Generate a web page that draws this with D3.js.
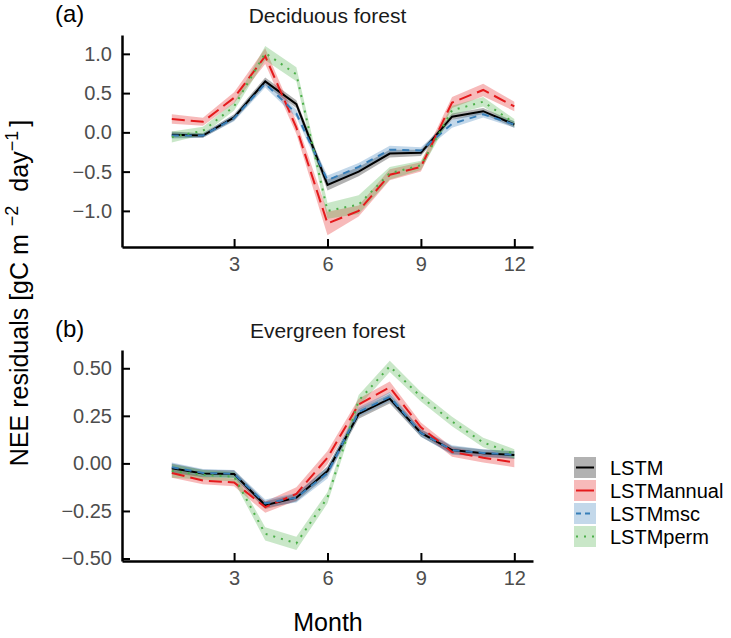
<!DOCTYPE html>
<html lang="en">
<head>
  <meta charset="UTF-8">
  <script src="https://cdn.jsdelivr.net/npm/d3@7"></script>
  <title>NEE residuals</title>
  <style>
    body { margin: 0; background: #fff; }
    svg text { font-family: "Liberation Sans", Arial, sans-serif; }
  </style>
</head>
<body>
  <svg width="731" height="638" id="chart"></svg>
  <script>
    // ---- data ----
    let months = [1, 2, 3, 4, 5, 6, 7, 8, 9, 10, 11, 12]
    let monthTicks = [3, 6, 9, 12]
    let models = ["LSTM", "LSTMannual", "LSTMmsc", "LSTMperm"]

    // (a) Deciduous forest: mean and half band width
    let decLSTM = [-0.03, -0.04, 0.19, 0.65, 0.36, -0.67, -0.50, -0.27, -0.26, 0.20, 0.27, 0.10]
    let decLSTMse = [0.04, 0.03, 0.04, 0.05, 0.05, 0.07, 0.06, 0.05, 0.04, 0.04, 0.04, 0.04]
    let decAnnual = [0.17, 0.135, 0.44, 0.97, 0.06, -1.16, -1.0, -0.54, -0.44, 0.38, 0.54, 0.33]
    let decAnnualSe = [0.06, 0.05, 0.07, 0.10, 0.08, 0.15, 0.07, 0.07, 0.06, 0.07, 0.08, 0.06]
    let decMsc = [-0.04, -0.04, 0.18, 0.62, 0.24, -0.61, -0.44, -0.22, -0.23, 0.11, 0.23, 0.10]
    let decMscSe = [0.04, 0.03, 0.04, 0.05, 0.05, 0.06, 0.05, 0.05, 0.04, 0.05, 0.04, 0.04]
    let decPerm = [-0.06, 0.02, 0.33, 1.01, 0.74, -1.0, -0.92, -0.52, -0.42, 0.28, 0.39, 0.12]
    let decPermSe = [0.07, 0.05, 0.05, 0.09, 0.09, 0.10, 0.12, 0.08, 0.06, 0.06, 0.06, 0.05]
    let decTicks = [-1.0, -0.5, 0.0, 0.5, 1.0]

    // (b) Evergreen forest
    let everLSTM = [-0.026, -0.053, -0.056, -0.22, -0.18, -0.04, 0.26, 0.34, 0.16, 0.07, 0.053, 0.044]
    let everLSTMse = [0.025, 0.02, 0.02, 0.02, 0.02, 0.025, 0.025, 0.025, 0.02, 0.02, 0.02, 0.02]
    let everAnnual = [-0.05, -0.09, -0.10, -0.23, -0.16, 0.03, 0.31, 0.40, 0.19, 0.06, 0.03, 0.005]
    let everAnnualSe = [0.025, 0.02, 0.02, 0.03, 0.035, 0.035, 0.03, 0.03, 0.025, 0.025, 0.025, 0.025]
    let everMsc = [-0.02, -0.05, -0.055, -0.21, -0.18, -0.05, 0.27, 0.35, 0.16, 0.07, 0.055, 0.045]
    let everMscSe = [0.025, 0.02, 0.02, 0.02, 0.025, 0.03, 0.025, 0.025, 0.02, 0.025, 0.02, 0.02]
    let everPerm = [-0.04, -0.06, -0.07, -0.37, -0.42, -0.18, 0.33, 0.51, 0.35, 0.22, 0.11, 0.05]
    let everPermSe = [0.035, 0.025, 0.025, 0.035, 0.035, 0.03, 0.03, 0.03, 0.025, 0.025, 0.025, 0.025]
    let everTicks = [-0.50, -0.25, 0.00, 0.25, 0.50]

    // ---- styles ----
    let lineColor = { LSTM: "#000000", LSTMannual: "#e41a1c", LSTMmsc: "#377eb8", LSTMperm: "#4daf4a" }
    let dash = { LSTM: null, LSTMannual: "13,6", LSTMmsc: "7,6", LSTMperm: "2,6" }
    let bandOpacity = 0.3

    let svg = d3.select("#chart")

    let panels = [
      { tag: "(a)", title: "Deciduous forest", top: 35, bottom: 247, domain: [-1.46, 1.24], ticks: decTicks, fmt: d3.format(".1f"),
        series: [[decLSTM, decLSTMse], [decAnnual, decAnnualSe], [decMsc, decMscSe], [decPerm, decPermSe]] },
      { tag: "(b)", title: "Evergreen forest", top: 350, bottom: 561, domain: [-0.513, 0.596], ticks: everTicks, fmt: d3.format(".2f"),
        series: [[everLSTM, everLSTMse], [everAnnual, everAnnualSe], [everMsc, everMscSe], [everPerm, everPermSe]] }
    ]

    let left = 122, right = 533
    let scaleX = d3.scaleLinear().domain([-0.6, 12.6]).range([left, right])

    panels.forEach(p => {
      let scaleY = d3.scaleLinear().domain(p.domain).range([p.bottom, p.top])
      let g = svg.append("g")

      let rows = p.series.map((s, k) => months.map((m, i) => ({ m: m, v: s[0][i], se: s[1][i], model: models[k] })))

      let area = d3.area()
        .x(d => scaleX(d.m))
        .y0(d => scaleY(d.v - d.se))
        .y1(d => scaleY(d.v + d.se))
      let line = d3.line()
        .x(d => scaleX(d.m))
        .y(d => scaleY(d.v))

      // ribbons first, then the lines on top
      g.selectAll(".band")
        .data(rows)
        .enter()
        .append("path")
        .attr("d", area)
        .attr("fill", d => lineColor[d[0].model])
        .attr("fill-opacity", bandOpacity)

      g.selectAll(".line")
        .data(rows)
        .enter()
        .append("path")
        .attr("d", line)
        .attr("fill", "none")
        .attr("stroke", d => lineColor[d[0].model])
        .attr("stroke-width", 2)
        .attr("stroke-dasharray", d => dash[d[0].model])

      /* AXES */
      let axisY = d3.axisLeft(scaleY).tickValues(p.ticks).tickFormat(p.fmt).tickSizeInner(-8).tickSizeOuter(0).tickPadding(10)
      let axisX = d3.axisBottom(scaleX).tickValues(monthTicks).tickSizeInner(-8).tickSizeOuter(0).tickPadding(10)

      let ay = g.append("g").attr("transform", `translate(${left},0)`).call(axisY)
      let ax = g.append("g").attr("transform", `translate(0,${p.bottom})`).call(axisX)

      ;[ax, ay].forEach(a => {
        a.select(".domain").attr("stroke", "#000").attr("stroke-width", 2.5)
        a.selectAll(".tick line").attr("stroke", "#000").attr("stroke-width", 2)
        a.selectAll(".tick text").attr("fill", "#4d4d4d").style("font-size", "20px")
      })

      // titles
      g.append("text")
        .text(p.title)
        .attr("x", (left + right) / 2)
        .attr("y", p.top - 12)
        .attr("text-anchor", "middle")
        .attr("fill", "#1a1a1a")
        .style("font-size", "21px")

      g.append("text")
        .text(p.tag)
        .attr("x", 55)
        .attr("y", p.top - 13)
        .attr("fill", "#000")
        .style("font-size", "24px")
    })

    // y axis title
    let yTitle = svg.append("text")
      .attr("transform", "translate(28,293) rotate(-90)")
      .attr("text-anchor", "middle")
      .attr("fill", "#000")
      .style("font-size", "25px")
    yTitle.append("tspan").text("NEE residuals [gC m")
    yTitle.append("tspan").text("\u22122").attr("dx", 8).attr("dy", -10).style("font-size", "18px")
    yTitle.append("tspan").text("day").attr("dx", 14).attr("dy", 10)
    yTitle.append("tspan").text("\u22121").attr("dy", -10).style("font-size", "18px")
    yTitle.append("tspan").text("]").attr("dx", 4).attr("dy", 10)

    // x axis title
    svg.append("text")
      .text("Month")
      .attr("x", 328)
      .attr("y", 631)
      .attr("text-anchor", "middle")
      .attr("fill", "#000")
      .style("font-size", "25px")

    /* LEGEND */
    let legend = svg.append("g").attr("transform", "translate(574,457)")
    let items = legend.selectAll("g")
      .data(models)
      .enter()
      .append("g")
      .attr("transform", (d, i) => `translate(0,${i * 23})`)
    items.append("rect")
      .attr("width", 22)
      .attr("height", 21)
      .attr("fill", d => lineColor[d])
      .attr("fill-opacity", bandOpacity)
    items.append("line")
      .attr("x1", 2).attr("x2", 20)
      .attr("y1", 10.5).attr("y2", 10.5)
      .attr("stroke", d => lineColor[d])
      .attr("stroke-width", 2)
      .attr("stroke-dasharray", d => d === "LSTMmsc" ? "5,4" : d === "LSTMperm" ? "2,6" : null)
    items.append("text")
      .text(d => d)
      .attr("x", 36)
      .attr("y", 18)
      .attr("fill", "#000")
      .style("font-size", "20px")
  </script>
</body>
</html>
